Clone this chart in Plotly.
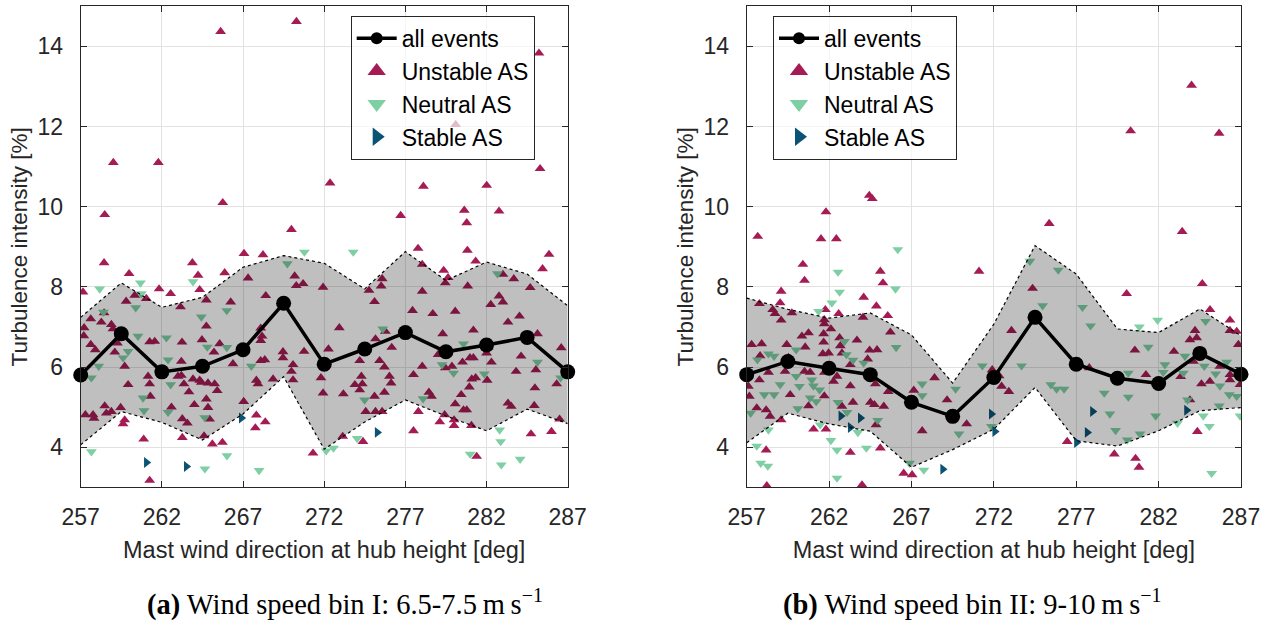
import plotly.graph_objects as go

# ---------------- data ----------------
x_bins = [257, 259.5, 262, 264.5, 267, 269.5, 272, 274.5, 277, 279.5, 282, 284.5, 287]
x_ticks = [257, 262, 267, 272, 277, 282, 287]
y_ticks = [4, 6, 8, 10, 12, 14]

mean_a = [5.80, 6.83, 5.88, 6.02, 6.43, 7.59, 6.07, 6.45, 6.86, 6.38, 6.55, 6.74, 5.88]
upper_a = [7.24, 8.10, 7.49, 7.74, 8.49, 8.78, 8.59, 7.95, 8.88, 8.16, 8.62, 8.32, 7.53]
lower_a = [4.06, 4.89, 4.62, 4.18, 4.83, 5.76, 3.95, 4.63, 5.18, 4.78, 4.41, 4.95, 4.59]

mean_b = [5.81, 6.14, 5.97, 5.81, 5.12, 4.77, 5.74, 7.24, 6.07, 5.72, 5.59, 6.34, 5.82]
upper_b = [7.72, 7.44, 7.22, 7.35, 6.80, 5.60, 7.07, 9.03, 8.32, 6.95, 6.86, 7.45, 6.78]
lower_b = [4.11, 4.85, 4.58, 4.40, 3.50, 3.94, 4.45, 5.49, 4.16, 4.03, 4.41, 4.91, 4.99]

unstable_a_x = [265.62, 270.29, 285.23, 280.10, 259.01, 261.78, 285.30, 272.36, 278.11, 282.01, 258.48, 265.75,
                276.71, 280.63, 282.77, 280.78, 269.98,
                258.44, 259.98, 263.88, 264.23, 265.87, 267.06, 268.23, 257.14, 261.83, 262.54, 264.33, 264.74,
                267.31, 270.18, 270.28, 270.70, 271.93, 268.40, 266.24, 263.15, 259.80, 260.33, 261.04, 258.44,
                257.62, 257.21, 257.19, 258.27, 258.89, 258.99, 257.62, 257.90, 259.26, 259.10, 261.25, 261.56,
                263.24, 264.47, 264.74, 265.56, 265.21, 259.71, 263.20, 266.38, 268.09, 268.17, 268.09, 268.34,
                268.09, 269.46, 269.46, 270.76, 270.08, 269.98, 257.08, 259.92, 261.15, 261.25, 261.29, 262.99,
                263.20, 263.36, 263.67, 263.92, 264.33, 264.43, 264.84, 265.25, 265.41, 264.74, 264.84, 264.00,
                262.59, 263.26, 263.57, 264.94, 267.04, 267.82, 267.92, 268.85, 267.82, 268.37, 267.76, 270.08,
                271.93, 257.29, 257.76, 257.82, 258.48, 258.58, 258.89, 259.46, 259.71, 259.61, 260.88, 263.26,
                264.60, 265.11, 265.73, 271.31, 261.25,
                277.78, 280.82, 285.85, 278.04, 279.36, 279.63, 281.33, 285.45, 279.46, 275.57, 275.51, 274.76,
                275.10, 278.04, 280.84, 283.01, 283.68, 284.69, 282.77, 283.01, 282.26, 277.44, 278.69, 280.07,
                284.03, 283.32, 272.93, 275.77, 275.16, 279.30, 281.19, 285.14, 272.26, 276.16, 279.02, 282.10,
                286.60, 274.19, 275.41, 275.71, 278.04, 279.46, 279.87, 280.52, 280.98, 281.19, 282.30, 282.00,
                284.13, 283.82, 285.04, 274.29, 276.02, 276.12, 277.50, 273.89, 274.35, 274.19, 273.18, 275.10,
                275.71, 278.45, 278.61, 280.44, 280.94, 281.09, 281.33, 282.04, 284.98, 286.32, 271.80, 280.07,
                280.78, 280.58, 283.32, 283.52, 284.94, 274.56, 275.16, 275.57, 277.80, 279.42, 279.12, 280.00,
                280.00, 281.07, 286.50, 273.14, 274.39, 277.50, 284.74, 286.00, 281.39]
unstable_a_y = [14.37, 14.62, 13.83, 12.05, 11.10, 11.10, 10.95, 10.59, 10.51, 10.53, 9.80, 10.10,
                9.78, 9.91, 9.89, 9.60, 9.43,
                8.60, 8.33, 8.60, 8.29, 8.35, 8.83, 8.80, 7.87, 7.95, 7.83, 7.93, 7.67,
                8.22, 8.27, 8.03, 8.08, 7.99, 7.78, 7.62, 7.50, 7.64, 7.79, 7.71, 7.35,
                7.20, 6.98, 6.78, 7.12, 7.06, 6.95, 6.56, 6.43, 6.60, 6.37, 6.63, 6.64,
                6.62, 6.68, 7.02, 6.58, 6.37, 6.02, 6.14, 6.08, 6.97, 6.77, 6.66, 6.18,
                6.16, 6.38, 6.23, 6.39, 6.06, 5.89, 5.85, 5.56, 5.77, 5.58, 5.27, 5.77,
                5.79, 5.58, 5.38, 5.70, 5.67, 5.62, 5.60, 5.58, 5.41, 5.20, 4.99, 5.06,
                5.00, 4.71, 4.60, 4.70, 5.14, 5.67, 5.58, 5.70, 4.80, 4.63, 4.48, 5.68,
                5.35, 4.81, 4.81, 4.72, 5.03, 4.85, 4.89, 4.99, 4.68, 4.58, 4.20, 4.24,
                4.28, 4.08, 4.12, 3.85, 3.17,
                8.96, 8.91, 8.81, 8.56, 8.41, 8.23, 8.64, 8.45, 8.10, 8.20, 8.02, 7.91,
                7.63, 7.89, 8.02, 8.31, 8.20, 7.98, 7.77, 7.62, 7.56, 7.41, 7.33, 7.39,
                7.27, 7.12, 6.98, 6.89, 6.70, 6.83, 6.92, 6.83, 6.45, 6.49, 6.31, 6.49,
                6.48, 6.16, 6.16, 6.00, 6.02, 5.98, 6.02, 6.12, 6.23, 6.23, 6.12, 6.35,
                6.27, 5.89, 5.93, 5.77, 5.77, 5.60, 5.81, 5.56, 5.58, 5.43, 5.33, 5.27,
                5.37, 5.37, 5.27, 5.31, 5.50, 5.70, 5.73, 5.67, 5.48, 5.58, 5.73, 5.08,
                4.93, 4.93, 5.10, 5.02, 5.04, 4.89, 4.89, 4.89, 4.89, 4.81, 4.63, 4.68,
                4.54, 4.54, 4.70, 4.27, 4.14, 4.41, 4.33, 4.39, 3.77]

neutral_a_x = [258.17, 260.68, 260.74, 263.92, 270.78, 269.73, 258.40, 260.39, 264.43, 266.00, 260.53, 262.28,
               264.80, 266.00, 259.92, 259.61, 262.38, 258.11, 257.66, 267.51, 262.54, 260.84, 260.90, 262.38,
               264.64, 266.01, 257.66, 264.65, 267.99,
               273.79, 282.67, 275.61, 280.58, 279.26, 279.97, 281.86, 285.14, 286.56, 274.49, 278.09, 282.81,
               282.87, 274.03, 272.12, 272.57, 280.99, 282.91, 284.07]
neutral_a_y = [7.95, 8.10, 7.83, 8.13, 8.87, 8.58, 7.37, 7.48, 7.25, 7.41, 6.77, 6.73,
               6.50, 6.49, 6.39, 6.23, 6.18, 6.02, 5.73, 6.02, 5.56, 5.23, 4.91, 4.87,
               4.74, 3.79, 3.89, 3.46, 3.42,
               8.87, 8.33, 6.95, 6.58, 6.06, 5.85, 5.83, 6.12, 5.73, 5.18, 5.21, 4.43,
               4.14, 4.22, 3.91, 3.98, 3.83, 3.56, 3.70]

stable_a_x = [261.05, 263.51, 266.90, 275.27]
stable_a_y = [3.62, 3.52, 4.73, 4.37]

unstable_b_x = [284.00, 280.30, 285.67, 264.44, 264.62, 261.81, 275.36, 283.43, 257.67, 261.51, 262.44,
                260.41, 265.11, 260.51, 265.27, 271.10, 259.09, 257.77, 259.03, 258.58, 258.72, 259.09, 259.74,
                261.77, 261.71, 261.71, 262.11, 262.58, 264.06, 264.10, 264.87, 265.56, 265.72, 257.30, 257.91,
                259.43, 260.35, 260.75, 260.55, 261.67, 261.67, 262.64, 262.68, 263.69, 264.46, 264.91, 261.62,
                261.97, 262.78, 259.53, 257.81, 264.34, 263.29, 258.32, 257.77, 259.33, 260.51, 260.85, 261.72,
                262.27, 262.48, 263.29, 264.81, 265.59, 257.10, 257.16, 259.64, 261.71, 260.75, 257.61, 258.18,
                258.42, 259.09, 262.78, 263.45, 264.51, 264.75, 265.32, 264.85, 261.06, 261.81, 258.18, 263.29,
                265.11, 258.22, 264.00, 266.53, 267.04, 267.14, 268.40, 269.16, 267.65, 270.35, 271.90,
                284.65, 280.06, 274.35, 273.07, 285.12, 286.33, 286.33, 286.74, 286.84, 284.21, 284.31, 283.90,
                280.56, 282.93, 277.79, 281.23, 272.32, 272.47, 272.91, 283.34, 284.60, 285.11, 285.72, 286.33,
                286.33, 286.94, 284.11, 283.90, 284.35, 276.45, 279.31, 280.60, 280.81]
unstable_b_y = [13.03, 11.89, 11.83, 10.28, 10.20, 9.87, 9.58, 9.38, 9.26, 9.20, 9.20,
                8.56, 8.39, 8.16, 8.10, 8.39, 7.89, 7.58, 7.60, 7.43, 7.33, 7.17, 7.35,
                7.43, 7.18, 7.08, 6.95, 7.33, 7.24, 7.74, 7.52, 7.28, 6.87, 6.56, 6.58,
                6.56, 6.77, 6.85, 6.50, 6.83, 6.62, 6.73, 6.53, 6.67, 6.42, 6.43, 6.33,
                6.35, 6.35, 6.24, 6.28, 6.20, 6.06, 5.87, 5.68, 5.89, 5.89, 5.87, 5.87,
                5.64, 5.77, 5.53, 5.58, 5.39, 5.52, 5.27, 5.31, 5.28, 5.03, 4.98, 4.93,
                4.77, 4.68, 5.02, 5.12, 5.12, 5.06, 5.02, 4.56, 4.45, 4.45, 3.93, 3.87,
                3.98, 3.04, 3.06, 3.35, 3.31, 5.42, 5.73, 5.18, 4.41, 4.58, 5.93,
                8.08, 7.83, 7.96, 6.91, 7.43, 7.17, 6.91, 6.89, 6.56, 6.91, 6.73, 6.68,
                6.42, 6.39, 5.98, 5.81, 5.78, 5.52, 5.39, 5.76, 5.58, 5.64, 6.02, 5.81,
                5.68, 5.56, 6.14, 5.18, 4.39, 4.14, 3.83, 3.72, 3.50]

neutral_b_x = [266.17, 262.54, 262.64, 266.03, 262.17, 261.36, 266.07, 260.00, 257.65, 258.32, 258.66, 262.93,
               263.05, 263.45, 264.10, 260.00, 260.20, 259.03, 260.95, 261.05, 261.42, 258.07, 258.66, 260.85,
               261.22, 260.10, 262.54, 263.09, 257.24, 258.32, 261.46, 262.11, 262.48, 263.75, 264.26, 264.95,
               257.61, 257.85, 258.28, 262.48, 266.88, 267.75, 267.65, 267.65, 269.68, 269.88, 271.30, 271.85,
               274.19, 275.91, 274.96, 277.38, 277.87, 280.83, 281.94, 281.37, 284.85, 273.68, 275.46, 275.81,
               276.26, 280.16, 282.38, 282.28, 283.60, 283.50, 284.77, 285.46, 286.13, 285.72, 286.29, 286.74,
               278.70, 280.16, 279.04, 281.82, 283.76, 285.68, 284.71, 285.08, 286.94, 283.15, 279.39, 280.10,
               280.87, 285.22]
neutral_b_y = [8.93, 8.37, 7.87, 7.95, 7.60, 7.39, 6.49, 6.43, 6.18, 6.33, 6.27, 6.64,
               6.31, 6.17, 6.10, 5.77, 5.52, 5.56, 5.68, 5.53, 5.43, 5.31, 5.31, 5.23,
               5.14, 4.96, 5.12, 4.87, 4.85, 4.43, 4.56, 4.17, 3.93, 4.37, 3.98, 4.67,
               4.03, 3.60, 3.53, 3.23, 3.60, 3.43, 5.58, 5.29, 5.45, 4.33, 6.03, 4.52,
               8.64, 8.42, 7.53, 7.49, 7.03, 7.00, 7.17, 6.50, 7.14, 6.03, 5.56, 5.45,
               5.45, 5.85, 6.06, 5.87, 6.27, 5.85, 6.02, 5.83, 6.12, 5.53, 5.31, 5.27,
               5.35, 5.25, 4.83, 4.78, 5.18, 5.03, 4.78, 4.52, 4.78, 4.60, 4.42, 4.18,
               4.33, 3.35]

stable_b_x = [262.72, 263.90, 263.29, 268.90, 271.85, 277.99, 277.67, 277.02, 283.70, 272.06]
stable_b_y = [4.78, 4.73, 4.49, 3.45, 4.83, 4.89, 4.37, 4.12, 4.92, 4.39]

x_title = "Mast wind direction at hub height [deg]"
y_title = "Turbulence intensity [%]"
captions = ["<b>(a)</b> Wind speed bin I: 6.5-7.5\u2009m\u2009s<sup>\u22121</sup>",
            "<b>(b)</b> Wind speed bin II: 9-10\u2009m\u2009s<sup>\u22121</sup>"]

# ---------------- styling ----------------
W, H = 1269, 622
C_UNST = "#A51C55"
C_NEUT = "#7ECFA3"
C_STAB = "#0B5374"
AX = "#262626"
SANS = "Liberation Sans, Arial, sans-serif"
SERIF = "Liberation Serif, Times New Roman, serif"

fig = go.Figure()


def add_panel(xa, ya, leg, tag, ux, uy, nx, ny, sx, sy, mean, up, lo):
    fig.add_trace(go.Scatter(x=ux, y=uy, mode="markers", xaxis=xa, yaxis=ya, showlegend=False,
                             marker=dict(symbol="triangle-up", size=9.5, color=C_UNST)))
    fig.add_trace(go.Scatter(x=nx, y=ny, mode="markers", xaxis=xa, yaxis=ya, showlegend=False,
                             marker=dict(symbol="triangle-down", size=9.5, color=C_NEUT)))
    fig.add_trace(go.Scatter(x=sx, y=sy, mode="markers", xaxis=xa, yaxis=ya, showlegend=False,
                             marker=dict(symbol="triangle-right", size=9.5, color=C_STAB)))
    # band (drawn over markers with transparency)
    fig.add_trace(go.Scatter(x=list(x_bins) + list(x_bins)[::-1], y=list(up) + list(lo)[::-1],
                             mode="lines", fill="toself", fillcolor="rgba(0,0,0,0.25)",
                             line=dict(width=0), xaxis=xa, yaxis=ya, showlegend=False, hoverinfo="skip"))
    for edge in (up, lo):
        fig.add_trace(go.Scatter(x=x_bins, y=edge, mode="lines", xaxis=xa, yaxis=ya, showlegend=False,
                                 line=dict(color="black", width=1.2, dash="dot")))
    fig.add_trace(go.Scatter(x=x_bins, y=mean, mode="lines+markers", xaxis=xa, yaxis=ya, showlegend=False,
                             cliponaxis=False,
                             line=dict(color="black", width=3.5), marker=dict(size=15, color="black")))
    # legend entries
    fig.add_trace(go.Scatter(x=[None], y=[None], mode="lines+markers", name="all events", legend=leg,
                             legendgroup=tag + "1", xaxis=xa, yaxis=ya, line=dict(color="black", width=3.5),
                             marker=dict(size=12, color="black")))
    fig.add_trace(go.Scatter(x=[None], y=[None], mode="markers", name="Unstable AS", legend=leg,
                             legendgroup=tag + "2", xaxis=xa, yaxis=ya,
                             marker=dict(symbol="triangle-up", size=16, color=C_UNST)))
    fig.add_trace(go.Scatter(x=[None], y=[None], mode="markers", name="Neutral AS", legend=leg,
                             legendgroup=tag + "3", xaxis=xa, yaxis=ya,
                             marker=dict(symbol="triangle-down", size=16, color=C_NEUT)))
    fig.add_trace(go.Scatter(x=[None], y=[None], mode="markers", name="Stable AS", legend=leg,
                             legendgroup=tag + "4", xaxis=xa, yaxis=ya,
                             marker=dict(symbol="triangle-right", size=16, color=C_STAB)))


add_panel("x", "y", "legend", "a", unstable_a_x, unstable_a_y, neutral_a_x, neutral_a_y,
          stable_a_x, stable_a_y, mean_a, upper_a, lower_a)
add_panel("x2", "y2", "legend2", "b", unstable_b_x, unstable_b_y, neutral_b_x, neutral_b_y,
          stable_b_x, stable_b_y, mean_b, upper_b, lower_b)

ydom = [1 - 487.3 / H, 1 - 6.3 / H]
TF = dict(family=SANS, size=23, color=AX)
xcommon = dict(range=[257, 287], tickvals=x_ticks, ticks="inside", ticklen=6, tickcolor=AX,
               showline=True, linecolor=AX, linewidth=1, mirror="ticks", showgrid=True,
               gridcolor="#e2e2e2", gridwidth=1, zeroline=False, automargin=False,
               tickfont=TF, ticklabelstandoff=9,
               title=dict(text=x_title, font=dict(family=SANS, size=23.5, color=AX), standoff=12))
ycommon = dict(range=[3, 15], tickvals=y_ticks, ticks="inside", ticklen=6, tickcolor=AX,
               showline=True, linecolor=AX, linewidth=1, mirror="ticks", showgrid=True,
               gridcolor="#e2e2e2", gridwidth=1, zeroline=False, automargin=False,
               tickfont=TF, ticklabelstandoff=12,
               title=dict(text=y_title, font=dict(family=SANS, size=22.5, color=AX), standoff=3))

legcommon = dict(bgcolor="rgba(255,255,255,0.7)", bordercolor=AX, borderwidth=1,
                 font=dict(family=SANS, size=23, color="black"), tracegroupgap=0,
                 traceorder="grouped", xanchor="left", yanchor="top", itemwidth=40)

fig.update_layout(
    width=W, height=H, margin=dict(l=0, r=0, t=0, b=0),
    paper_bgcolor="white", plot_bgcolor="white",
    xaxis=dict(domain=[80.7 / W, 567.7 / W], anchor="y", **xcommon),
    yaxis=dict(domain=ydom, anchor="x", **ycommon),
    xaxis2=dict(domain=[746.7 / W, 1241 / W], anchor="y2", **xcommon),
    yaxis2=dict(domain=ydom, anchor="x2", **ycommon),
    legend=dict(x=350.7 / W, y=1 - 15.7 / H, **legcommon),
    legend2=dict(x=773 / W, y=1 - 15.7 / H, **legcommon),
)

for t, xc in zip(captions, (345 / W, 972 / W)):
    fig.add_annotation(xref="paper", yref="paper", showarrow=False, xanchor="center", yanchor="middle",
                       x=xc, y=1 - 602 / H, text=t, font=dict(family=SERIF, size=28.5, color="black"))

fig.write_html("out.html")
